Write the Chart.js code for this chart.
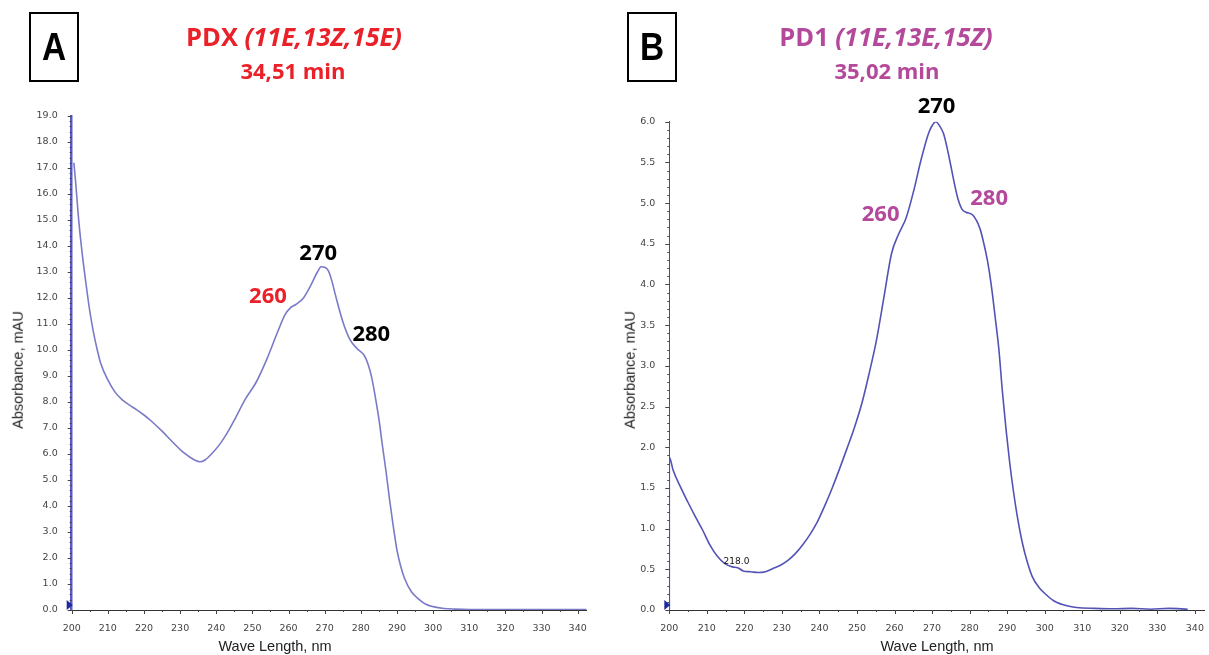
<!DOCTYPE html>
<html>
<head>
<meta charset="utf-8">
<script src="https://cdn.jsdelivr.net/npm/chart.js@4.4.1/dist/chart.umd.min.js"></script>
<style>
  body { margin: 0; background: #fff; }
  #page { position: relative; width: 1209px; height: 655px; overflow: hidden; font-family: 'Open Sans', sans-serif; }
  canvas { position: absolute; top: 0; }
  .txt { position: absolute; transform: translate(-50%, -50%); white-space: nowrap; line-height: 1; }
  .box { position: absolute; width: 50px; height: 70px; border: 2px solid #000; box-sizing: border-box; }
  .letter { font-family: 'Liberation Sans', sans-serif; font-weight: bold; font-size: 38px; color: #000; transform: translate(-50%, -50%) scaleX(0.88); }
  .title { font-weight: bold; font-size: 25.5px; }
  .time { font-weight: bold; font-size: 22px; }
  .axt { font-family: 'Liberation Sans', sans-serif; font-size: 14.5px; color: #222; }
  .red { color: #ea2129; }
  .purple { color: #b4489a; }
</style>
</head>
<body>
<div id="page">
  <canvas id="chartA" width="604" height="655" style="left:0"></canvas>
  <canvas id="chartB" width="605" height="655" style="left:604px"></canvas>

  <div class="box" style="left:29px; top:12px"></div>
  <div class="txt letter" style="left:54px; top:47px">A</div>
  <div class="box" style="left:627px; top:12px"></div>
  <div class="txt letter" style="left:652px; top:47px">B</div>

  <div class="txt title red" style="left:294px; top:37px">PDX <i>(11E,13Z,15E)</i></div>
  <div class="txt time red" style="left:293px; top:70px">34,51 min</div>
  <div class="txt title purple" style="left:886px; top:37px">PD1 <i>(11E,13E,15Z)</i></div>
  <div class="txt time purple" style="left:887px; top:70px">35,02 min</div>

  <div class="txt axt" style="left:18px; top:370px; transform: translate(-50%, -50%) rotate(-90deg)">Absorbance, mAU</div>
  <div class="txt axt" style="left:630px; top:370px; transform: translate(-50%, -50%) rotate(-90deg)">Absorbance, mAU</div>
  <div class="txt axt" style="left:275px; top:646px">Wave Length, nm</div>
  <div class="txt axt" style="left:937px; top:646px">Wave Length, nm</div>
</div>

<script>
// Panel A - PDX spectrum (wavelength in nm, absorbance in mAU)
const wavelengthsA = [200.6, 201, 202, 203, 204, 205, 206, 207, 208, 210, 212, 214, 216, 218, 220, 222, 225, 228, 231, 234, 235.5,
    237, 239, 241, 243, 245, 248, 251, 254, 257, 259, 260.5, 262, 264, 266, 268, 269, 270, 271, 272, 273,
    275, 277, 279, 281, 282, 283, 284, 285, 286, 287, 288, 289, 290, 291, 292, 294, 296, 298, 300, 303,
    306, 310, 320, 330, 342.5];
const absorbanceA = [17.2, 16.6, 14.9, 13.6, 12.5, 11.5, 10.7, 10.05, 9.5, 8.85, 8.38, 8.08, 7.88, 7.7, 7.5, 7.27, 6.88, 6.45, 6.05, 5.77, 5.70,
    5.78, 6.05, 6.38, 6.8, 7.3, 8.1, 8.75, 9.65, 10.7, 11.35, 11.62, 11.75, 11.98, 12.45, 13.0, 13.2, 13.18, 13.05, 12.65, 12.1,
    11.1, 10.4, 10.05, 9.78, 9.45, 8.95, 8.2, 7.35, 6.3, 5.3, 4.2, 3.2, 2.3, 1.7, 1.25, 0.7, 0.42, 0.22, 0.13, 0.06,
    0.035, 0.02, 0.02, 0.02, 0.02];

// Panel B - PD1 spectrum
const wavelengthsB = [200, 200, 201, 203, 204.9, 206.9, 208.9, 210.8, 212.8, 214.8, 216.8, 218.2, 219.7, 221.7, 223.7, 225.6, 227.6, 229.6, 231.6, 233.5,
    235.5, 237.5, 239.4, 241.4, 243.4, 245.4, 247.3, 249.3, 251.3, 253.2, 255.2, 257.2, 259.2, 261.1, 263.1, 265.1, 267, 269, 270, 271,
    272, 273, 273.9, 274.9, 275.9, 276.9, 277.9, 278.9, 280.9, 282.8, 283.8, 284.8, 285.8, 286.8, 287.8, 288.7, 289.7, 290.7, 291.7, 292.7,
    293.7, 294.7, 296.6, 298.6, 300.6, 302.5, 304.5, 306.5, 308.5, 313.4, 318.3, 323.2, 328.2, 333.1, 338.1];
const absorbanceB = [0, 1.88, 1.72, 1.51, 1.33, 1.15, 0.98, 0.8, 0.66, 0.57, 0.53, 0.52, 0.48, 0.47, 0.46, 0.47, 0.51, 0.55, 0.61, 0.69,
    0.8, 0.93, 1.08, 1.28, 1.5, 1.74, 1.98, 2.24, 2.54, 2.9, 3.32, 3.85, 4.38, 4.62, 4.82, 5.15, 5.52, 5.85, 5.95, 6.0,
    5.95, 5.86, 5.7, 5.48, 5.25, 5.05, 4.93, 4.89, 4.85, 4.68, 4.5, 4.28, 3.98, 3.6, 3.2, 2.7, 2.22, 1.8, 1.45, 1.15,
    0.9, 0.7, 0.42, 0.27, 0.18, 0.11, 0.07, 0.045, 0.03, 0.02, 0.015, 0.02, 0.01, 0.02, 0.01];

const peakTextsA = ['260', '270', '280'];
const peakTextsB = ['260', '270', '280', '218.0'];

// Draws major/minor tick marks, the start marker and the peak labels
const spectrumDecor = {
    id: 'spectrumDecor',
    afterDraw(chart, args, opts) {
        const { ctx, chartArea, scales: { x, y } } = chart;
        ctx.save();
        ctx.strokeStyle = '#444';
        ctx.lineWidth = 1;
        ctx.beginPath();
        x.ticks.forEach(t => {
            const px = Math.round(x.getPixelForValue(t.value)) + 0.5;
            const len = t.label ? 4 : 2;
            ctx.moveTo(px, chartArea.bottom);
            ctx.lineTo(px, chartArea.bottom + len);
        });
        y.ticks.forEach(t => {
            const py = Math.round(y.getPixelForValue(t.value)) + 0.5;
            const len = t.label ? 4 : 2;
            ctx.moveTo(chartArea.left - len, py);
            ctx.lineTo(chartArea.left, py);
        });
        ctx.stroke();

        const ox = x.getPixelForValue(x.min);
        const oy = y.getPixelForValue(0);
        ctx.fillStyle = '#1c2a9c';
        ctx.beginPath();
        ctx.moveTo(ox - 5, oy - 10);
        ctx.lineTo(ox + 1, oy - 5);
        ctx.lineTo(ox - 5, oy);
        ctx.closePath();
        ctx.fill();

        ctx.textAlign = 'center';
        ctx.textBaseline = 'middle';
        (opts.labels || []).forEach(l => {
            ctx.font = l.font;
            ctx.fillStyle = l.color;
            ctx.fillText(l.text, x.getPixelForValue(l.x), y.getPixelForValue(l.y));
        });
        ctx.restore();
    }
};

const tickFont = { family: "'DejaVu Sans', sans-serif", size: 9.5 };
const peakFont = "bold 22px 'Open Sans', sans-serif";

function createSpectrum(canvasId, wl, ab, opts) {
    const ctx = document.getElementById(canvasId).getContext('2d');
    return new Chart(ctx, {
        type: 'line',
        data: {
            datasets: [{
                data: wl.map((w, i) => ({ x: w, y: ab[i] })),
                borderColor: opts.lineColor,
                borderWidth: 1.6,
                pointRadius: 0,
                cubicInterpolationMode: 'monotone',
                fill: false
            }]
        },
        options: {
            responsive: false,
            animation: false,
            layout: { padding: { left: 0, right: opts.padRight, top: opts.padTop, bottom: 0 } },
            plugins: {
                legend: { display: false },
                tooltip: { enabled: false },
                spectrumDecor: { labels: opts.labels }
            },
            scales: {
                x: {
                    type: 'linear',
                    min: 200,
                    max: opts.xMax,
                    afterFit: s => { s.height = 45; },
                    grid: { display: false },
                    border: { display: true, color: '#333', width: 1 },
                    ticks: {
                        stepSize: 5,
                        includeBounds: false,
                        autoSkip: false,
                        maxRotation: 0,
                        padding: 5,
                        color: '#444',
                        font: tickFont,
                        callback: v => (v % 10 === 0 ? String(v) : '')
                    }
                },
                y: {
                    min: 0,
                    max: opts.yMax,
                    afterFit: s => { s.width = opts.yWidth; },
                    grid: { display: false },
                    border: { display: true, color: opts.axisColor, width: opts.axisWidth },
                    ticks: {
                        stepSize: opts.yStep,
                        maxTicksLimit: 400,
                        includeBounds: false,
                        autoSkip: false,
                        padding: 6,
                        color: '#444',
                        font: tickFont,
                        callback: v => {
                            const k = v / opts.yLabelStep;
                            return Math.abs(k - Math.round(k)) < 1e-6 ? v.toFixed(1) : '';
                        }
                    }
                }
            }
        },
        plugins: [spectrumDecor]
    });
}

createSpectrum('chartA', wavelengthsA, absorbanceA, {
    lineColor: '#7a7ac8',
    axisColor: '#5a5ac4',
    axisWidth: 2.5,
    xMax: 342.5,
    yMax: 19,
    yStep: 0.2,
    yLabelStep: 1,
    yWidth: 71.7,
    padTop: 116,
    padRight: 17.3,
    labels: [
        { text: peakTextsA[0], x: 254.3, y: 12.05, color: '#ea2129', font: peakFont },
        { text: peakTextsA[1], x: 268.2, y: 13.69, color: '#000', font: peakFont },
        { text: peakTextsA[2], x: 282.9, y: 10.6, color: '#000', font: peakFont }
    ]
});

createSpectrum('chartB', wavelengthsB, absorbanceB, {
    lineColor: '#5353b6',
    axisColor: '#555',
    axisWidth: 1,
    xMax: 342.6,
    yMax: 6,
    yStep: 0.1,
    yLabelStep: 0.5,
    yWidth: 65.3,
    padTop: 121.7,
    padRight: 4,
    labels: [
        { text: peakTextsB[0], x: 256.3, y: 4.86, color: '#b4489a', font: peakFont },
        { text: peakTextsB[1], x: 271.2, y: 6.18, color: '#000', font: peakFont },
        { text: peakTextsB[2], x: 285.2, y: 5.05, color: '#b4489a', font: peakFont },
        { text: peakTextsB[3], x: 217.9, y: 0.59, color: '#111', font: "9px 'DejaVu Sans', sans-serif" }
    ]
});
</script>
</body>
</html>
